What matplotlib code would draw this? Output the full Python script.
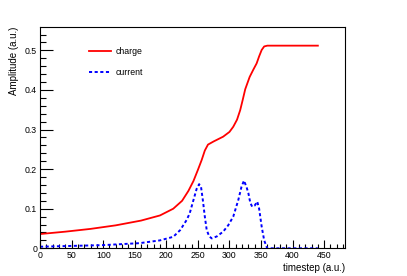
import matplotlib
matplotlib.use("Agg")
import matplotlib.pyplot as plt
from matplotlib.ticker import MultipleLocator

plt.rcParams['font.family'] = ['Liberation Sans', 'DejaVu Sans']

charge_t = [0, 40, 80, 120, 160, 190, 211, 225, 235, 243, 250, 256, 261, 266, 275,
            290, 300, 306, 312, 317, 321, 325, 332, 338, 343, 347, 351, 355, 360, 440]
charge_v = [0.036, 0.042, 0.049, 0.058, 0.070, 0.083, 0.100, 0.120, 0.145, 0.170,
            0.198, 0.223, 0.247, 0.262, 0.270, 0.282, 0.294, 0.307, 0.325, 0.349,
            0.375, 0.402, 0.433, 0.452, 0.467, 0.485, 0.501, 0.510, 0.512, 0.512]

current_t = [0, 50, 100, 158, 190, 211, 222, 232, 237, 243, 248, 252, 255, 258, 261,
             264, 268, 272, 280, 290, 298, 306, 314, 319, 323, 327, 330, 333, 336,
             340, 344, 347, 351, 355, 359, 360, 440]
current_v = [0.004, 0.006, 0.008, 0.013, 0.020, 0.029, 0.046, 0.071, 0.088, 0.122,
             0.150, 0.162, 0.155, 0.120, 0.080, 0.046, 0.030, 0.025, 0.030, 0.042,
             0.058, 0.080, 0.122, 0.155, 0.171, 0.155, 0.139, 0.115, 0.105, 0.108,
             0.118, 0.100, 0.055, 0.020, 0.003, 0.0, 0.0]

labels = ["charge", "current"]
xlabel = "timestep (a.u.)"
ylabel = "Amplitude (a.u.)"

fig = plt.figure(figsize=(4.07, 2.76), dpi=100)
ax = fig.add_axes([0.0983, 0.1004, 0.7494, 0.8016])

ax.plot(charge_t, charge_v, color='#ff0000', lw=1.3, label=labels[0])
ax.plot(current_t, current_v, color='#0000ff', lw=1.4, ls=(0, (1.6, 1.3)), label=labels[1])

ax.set_xlim(0, 483)
ax.set_ylim(0, 0.559)

ax.xaxis.set_major_locator(MultipleLocator(50))
ax.xaxis.set_minor_locator(MultipleLocator(10))
ax.yaxis.set_major_locator(MultipleLocator(0.1))
ax.yaxis.set_minor_locator(MultipleLocator(0.02))
ax.set_yticks([0, 0.1, 0.2, 0.3, 0.4, 0.5])
ax.set_yticklabels(["0", "0.1", "0.2", "0.3", "0.4", "0.5"])

ax.tick_params(axis='both', which='both', direction='in', top=False, right=False,
               labelsize=6.3, colors='black', pad=2)
ax.tick_params(axis='x', which='major', length=6, width=0.8)
ax.tick_params(axis='x', which='minor', length=3, width=0.8)
ax.tick_params(axis='y', which='major', length=9, width=0.8)
ax.tick_params(axis='y', which='minor', length=4.5, width=0.8)

for s in ax.spines.values():
    s.set_linewidth(0.8)
    s.set_color('black')

ax.set_xlabel(xlabel, fontsize=7, loc='right', labelpad=2)
ax.set_ylabel(ylabel, fontsize=7, loc='top', labelpad=4)

leg = ax.legend(loc='upper left', bbox_to_anchor=(0.135, 0.945), frameon=False,
                fontsize=6.3, handlelength=2.5, handletextpad=0.5, labelspacing=1.4)

fig.savefig("out.png", dpi=100)
